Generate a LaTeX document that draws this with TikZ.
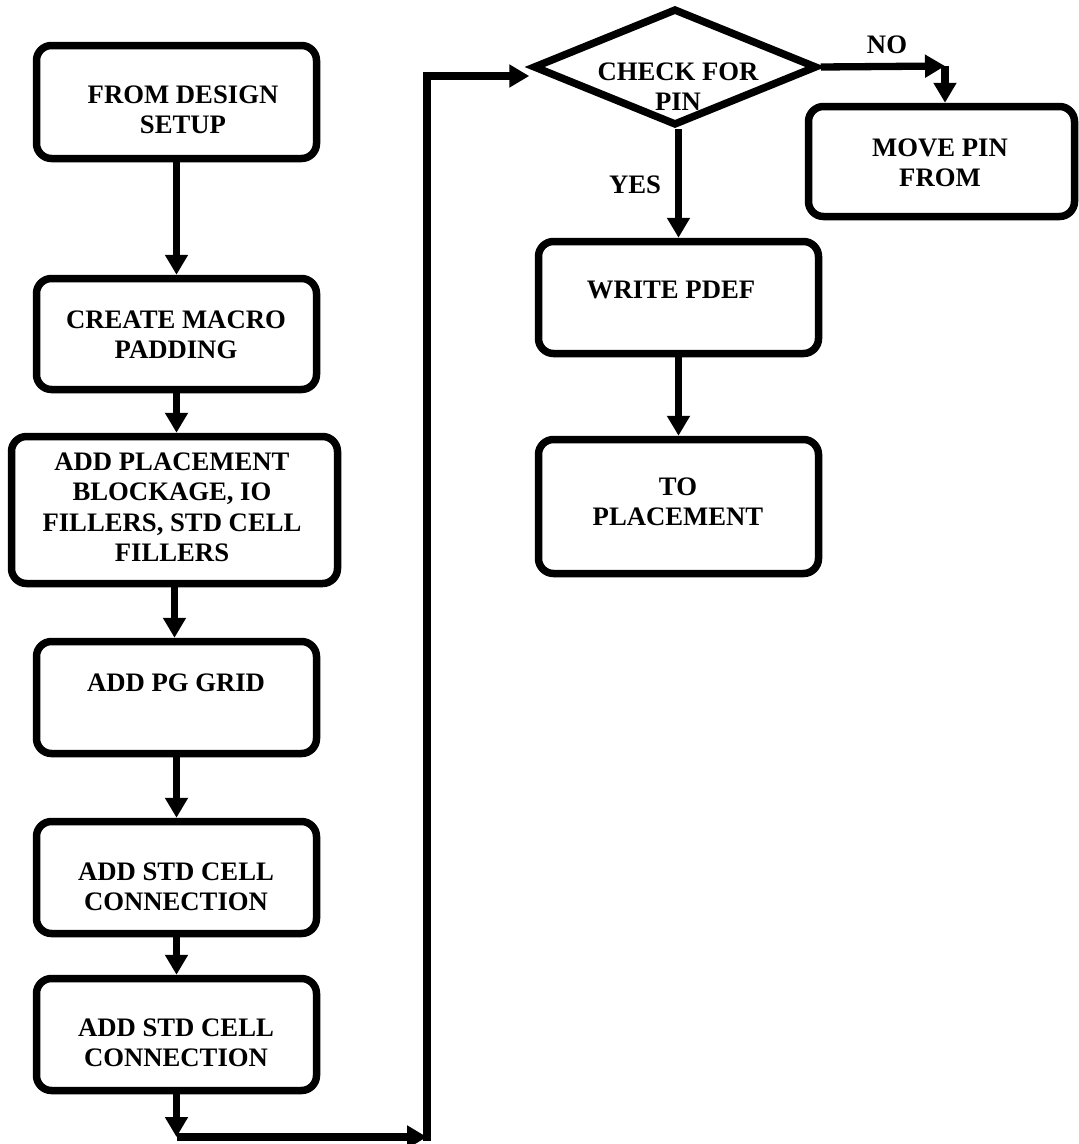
\documentclass[tikz,border=0pt]{standalone}
\usepackage{fontspec}
\setmainfont{Liberation Serif}
\usetikzlibrary{arrows.meta,shapes.geometric,calc}
\begin{document}
\begin{tikzpicture}[x=1pt,y=-1pt,
  box/.style={draw, line width=7.5pt, rounded corners=15pt, minimum width=280pt, inner sep=0pt},
  decision/.style={draw, diamond, line width=7.5pt, line join=miter, inner sep=0pt,
                   minimum width=284pt, minimum height=117pt},
  txt/.style={font=\fontsize{26.7}{30.5}\selectfont\bfseries, align=center, inner sep=0pt},
  arr/.style={line width=7.3pt, -{Triangle[width=22pt,length=20pt]}},
  link/.style={line width=7.3pt, line join=miter}
]
\useasboundingbox (0,0) rectangle (1079,1144);

% process boxes, left column
\node[box, minimum height=113pt] (b1) at (176.5,102) {};
\node[box, minimum height=111pt] (b2) at (176.5,334) {};
\node[box, minimum width=326pt, minimum height=147pt] (b3) at (174.5,510) {};
\node[box, minimum height=112pt] (b4) at (176.5,697.5) {};
\node[box, minimum height=112pt] (b5) at (176.5,877.5) {};
\node[box, minimum height=112pt] (b6) at (176.5,1034.5) {};

% decision and right-hand boxes
\node[decision] (chk) at (675,67) {};
\node[box, minimum width=266pt, minimum height=110pt] (mv) at (941.5,161.5) {};
\node[box, minimum height=112pt] (wp) at (678.5,297.5) {};
\node[box, minimum height=134pt] (tp) at (678.5,506.5) {};

% box texts
\node[txt] (t1) at (183,110) {FROM DESIGN\\SETUP};
\node[txt] (t2) at (176,335) {CREATE MACRO\\PADDING};
\node[txt] (t3) at (172,507.5) {ADD PLACEMENT\\BLOCKAGE, IO\\FILLERS, STD CELL\\FILLERS};
\node[txt] (t4) at (176,683) {ADD PG GRID};
\node[txt] (t5) at (176,887) {ADD STD CELL\\CONNECTION};
\node[txt] (t6) at (176,1043) {ADD STD CELL\\CONNECTION};
\node[txt] (tc) at (678,86.5) {CHECK FOR\\PIN};
\node[txt] (tm) at (940,163) {MOVE PIN\\FROM};
\node[txt] (tw) at (671,290) {WRITE PDEF};
\node[txt] (tt) at (678,502) {TO\\PLACEMENT};

% branch labels
\node[txt] (no) at (887,44.5) {NO};
\node[txt] (yes) at (635,185) {YES};

% route points of the return loop and the NO branch
\coordinate (c1) at (177,1137);
\coordinate (c2) at (427,1137);
\coordinate (c3) at (427,76);
\coordinate (c4) at (945,66);

% main chain
\draw[arr] (b1.south) -- (b2.north);
\draw[arr] (b2.south) -- (b2.south |- b3.north);
\draw[arr] (b3.south) -- (b3.south |- b4.north);
\draw[arr] (b4.south) -- (b5.north);
\draw[arr] (b5.south) -- (b6.north);
\draw[arr] (b6.south) -- (b6.south |- c1);
\draw[arr] (c1) -- (c2);
\draw[link, line cap=rect, -{Triangle[width=22pt,length=20pt]}] (c2) -- (c3) -- (c3 -| chk.west);

% decision branches
\draw[arr] (chk.east) -- (c4);
\draw[arr] (c4) -- (c4 |- mv.north);
\draw[arr] (wp.north |- chk.south) -- (wp.north);
\draw[arr] (wp.south) -- (tp.north);
\end{tikzpicture}
\end{document}
